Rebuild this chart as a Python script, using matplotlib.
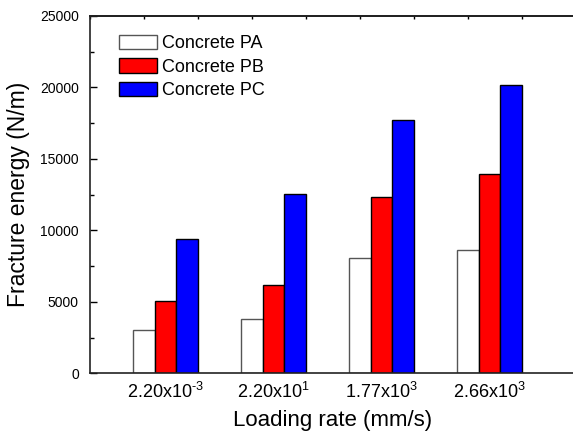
import matplotlib
matplotlib.use("Agg")
import matplotlib.pyplot as plt
import numpy as np
from matplotlib.ticker import MultipleLocator

plt.rcParams['font.family'] = ['Liberation Sans', 'DejaVu Sans']
plt.rcParams['mathtext.fontset'] = 'custom'
plt.rcParams['mathtext.rm'] = 'Liberation Sans'
plt.rcParams['mathtext.it'] = 'Liberation Sans'

categories = ['2.20x10$^{\u2010 3}$', r'2.20x10$^{1}$', r'1.77x10$^{3}$', r'2.66x10$^{3}$']
series_names = ['Concrete PA', 'Concrete PB', 'Concrete PC']
pa = [3050, 3780, 8050, 8600]
pb = [5050, 6150, 12330, 13950]
pc = [9400, 12530, 17750, 20200]
colors = ['white', '#ff0000', '#0000ff']
edges = ['#555555', 'black', 'black']

W, H = 573, 440
fig = plt.figure(figsize=(W/100, H/100), dpi=100)
ax = fig.add_axes([90/W, 1-373.3/H, (576-90)/W, (373.3-16)/H])

x = np.arange(1, len(categories)+1)
bw = 0.2
for j, (vals, c, ec, name) in enumerate(zip([pa, pb, pc], colors, edges, series_names)):
    ax.bar(x + (j-1)*bw, vals, width=bw, color=c, edgecolor=ec, linewidth=1.0, label=name, zorder=2)

ax.set_xlim(0.3, 4.8)
ax.set_ylim(0, 25000)
ax.set_xticks(x)
ax.set_xticklabels(categories, fontsize=13)
ax.yaxis.set_major_locator(MultipleLocator(5000))
ax.yaxis.set_minor_locator(MultipleLocator(2500))
ax.tick_params(axis='y', which='major', direction='in', length=5, width=1, labelsize=10, pad=8)
ax.tick_params(axis='y', which='minor', direction='in', length=3, width=1)
ax.tick_params(axis='x', which='major', length=0, pad=6)
for s in ax.spines.values():
    s.set_linewidth(1.2)
    s.set_color('#222222')

sec = ax.secondary_xaxis('top')
sec.set_xticks(np.arange(0.3, 4.81, 0.5))
sec.tick_params(direction='in', length=2.5, width=1, labeltop=False)
sec.spines['top'].set_linewidth(1.2)

ax.set_ylabel('Fracture energy (N/m)', fontsize=16.5, labelpad=7)
ax.set_xlabel('Loading rate (mm/s)', fontsize=16, labelpad=6)

ax.legend(loc='upper left', bbox_to_anchor=(119/W, 1-35/H), bbox_transform=fig.transFigure,
          frameon=False, fontsize=13, handlelength=2.1, handleheight=0.85,
          handletextpad=0.3, labelspacing=0.33, borderpad=0, borderaxespad=0)

fig.savefig('out.png', dpi=100)
